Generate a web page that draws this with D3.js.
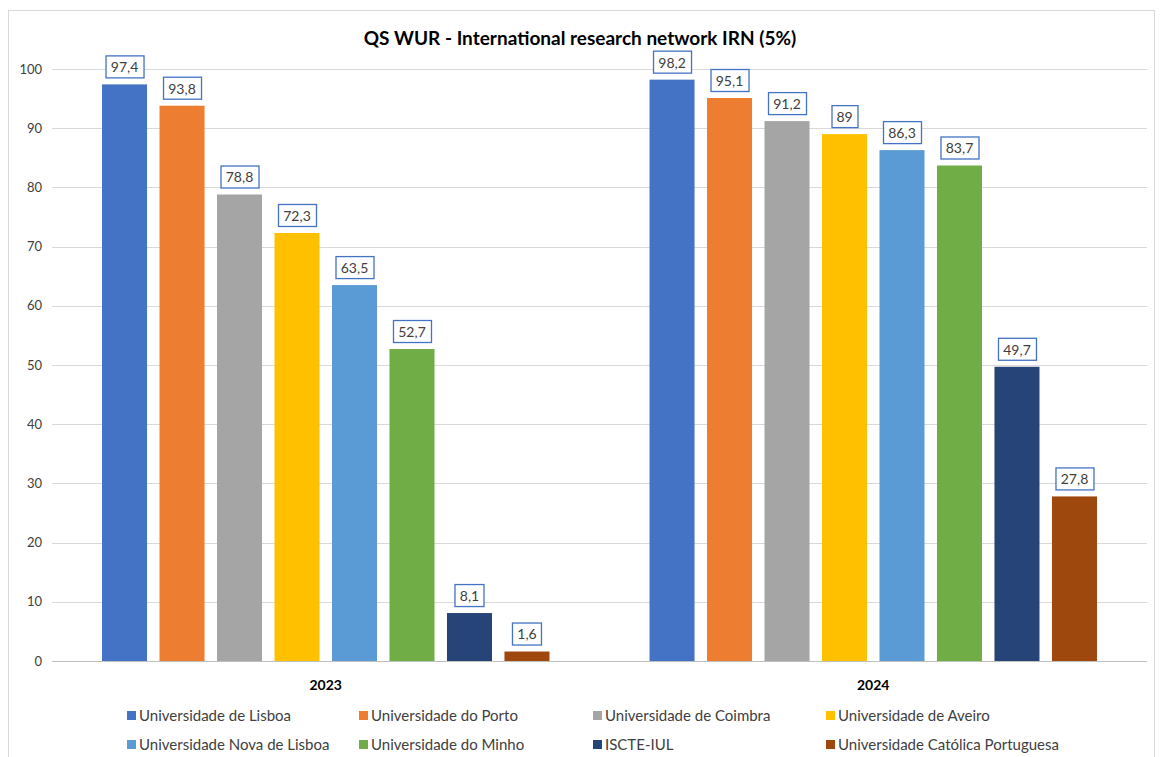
<!DOCTYPE html>
<html>
<head>
<meta charset="utf-8">
<script src="https://cdn.jsdelivr.net/npm/d3@7"></script>
<style>
  body { margin: 0; background: #fff; }
  svg { font-family: Lato, "Open Sans", sans-serif; }
</style>
</head>
<body>
<div id="chart"></div>
<script>
// Data
const years = ["2023", "2024"];
const universities = [
  "Universidade de Lisboa", "Universidade do Porto", "Universidade de Coimbra",
  "Universidade de Aveiro", "Universidade Nova de Lisboa", "Universidade do Minho",
  "ISCTE-IUL", "Universidade Católica Portuguesa"
];
const values2023 = [97.4, 93.8, 78.8, 72.3, 63.5, 52.7, 8.1, 1.6];
const values2024 = [98.2, 95.1, 91.2, 89, 86.3, 83.7, 49.7, 27.8];
const yTicks = [0, 10, 20, 30, 40, 50, 60, 70, 80, 90, 100];
const colors = ["#4472C4", "#ED7D31", "#A5A5A5", "#FFC000", "#5B9BD5", "#70AD47", "#264478", "#9E480E"];

const width = 1161, height = 757;
const marginLeft = 52, marginRight = 14, marginTop = 69, plotBottom = 661;

const svg = d3.select("#chart").append("svg")
    .attr("width", width)
    .attr("height", height);

// chart border
svg.append("rect")
    .attr("x", 8.5).attr("y", 10.5)
    .attr("width", 1146).attr("height", 760)
    .attr("fill", "none").attr("stroke", "#d9d9d9");

const x0 = d3.scaleBand()
    .domain(years)
    .range([marginLeft, width - marginRight])
    .paddingInner(0).paddingOuter(0);

const x1 = d3.scaleBand()
    .domain(universities)
    .range([0, x0.bandwidth()])
    .paddingInner(0.217)
    .paddingOuter(0.87);

const y = d3.scaleLinear()
    .domain([0, 100])
    .range([plotBottom, marginTop]);

// gridlines
svg.append("g")
    .selectAll("line")
    .data(yTicks)
    .join("line")
    .attr("x1", marginLeft).attr("x2", width - marginRight)
    .attr("y1", d => Math.round(y(d)) + 0.5).attr("y2", d => Math.round(y(d)) + 0.5)
    .attr("stroke", d => d === 0 ? "#bfbfbf" : "#d9d9d9");

// y axis labels
const yAxis = d3.axisLeft(y).tickValues(yTicks).tickSize(0).tickPadding(10);
svg.append("g")
    .attr("transform", `translate(${marginLeft},0)`)
    .call(yAxis)
    .call(g => g.select(".domain").remove())
    .call(g => g.selectAll("text")
        .attr("font-size", 13)
        .attr("fill", "#404040")
        .attr("font-family", "Lato, sans-serif"));

// title
svg.append("text")
    .attr("x", 580).attr("y", 45)
    .attr("text-anchor", "middle")
    .attr("font-size", 19)
    .attr("font-weight", "bold")
    .attr("fill", "#000")
    .text("QS WUR - International research network IRN (5%)");

const seriesByYear = { "2023": values2023, "2024": values2024 };

years.forEach(yr => {
  const g = svg.append("g").attr("transform", `translate(${x0(yr)},0)`);
  const vals = seriesByYear[yr];
  const data = universities.map((u, i) => ({ u, v: vals[i], c: colors[i] }));

  g.selectAll("rect.bar")
    .data(data)
    .join("rect")
    .attr("class", "bar")
    .attr("x", d => x1(d.u))
    .attr("width", x1.bandwidth())
    .attr("y", d => y(d.v))
    .attr("height", d => y(0) - y(d.v))
    .attr("fill", d => d.c);

  // data labels with boxes
  const lab = g.selectAll("g.lab")
    .data(data)
    .join("g")
    .attr("class", "lab")
    .attr("transform", d => `translate(${x1(d.u) + x1.bandwidth() / 2},${y(d.v) - 17})`);

  lab.append("text")
    .attr("text-anchor", "middle")
    .attr("dy", "0.35em")
    .attr("font-size", 14)
    .attr("fill", "#404040")
    .text(d => String(d.v).replace(".", ","))
    .each(function() {
      const bb = this.getBBox();
      d3.select(this.parentNode).insert("rect", "text")
        .attr("x", Math.round(bb.x - 5) + 0.5)
        .attr("y", -11.5)
        .attr("width", Math.round(bb.width + 10))
        .attr("height", 22)
        .attr("fill", "#fff")
        .attr("stroke", "#4472C4")
        .attr("stroke-width", 1.3);
    });

  // category label
  svg.append("text")
    .attr("x", x0(yr) + x0.bandwidth() / 2)
    .attr("y", 690)
    .attr("text-anchor", "middle")
    .attr("font-size", 14)
    .attr("font-weight", "bold")
    .attr("fill", "#000")
    .text(yr);
});

// legend
const legendX = [127, 359, 593, 826];
const legendY = [716, 745];
const legend = svg.append("g")
    .selectAll("g")
    .data(universities)
    .join("g")
    .attr("transform", (d, i) => `translate(${legendX[i % 4]},${legendY[Math.floor(i / 4)]})`);

legend.append("rect")
    .attr("x", 0).attr("y", -5)
    .attr("width", 9).attr("height", 9)
    .attr("fill", (d, i) => colors[i]);

legend.append("text")
    .attr("x", 12)
    .attr("dy", "0.35em")
    .attr("font-size", 15)
    .attr("fill", "#404040")
    .text(d => d);
</script>
</body>
</html>
